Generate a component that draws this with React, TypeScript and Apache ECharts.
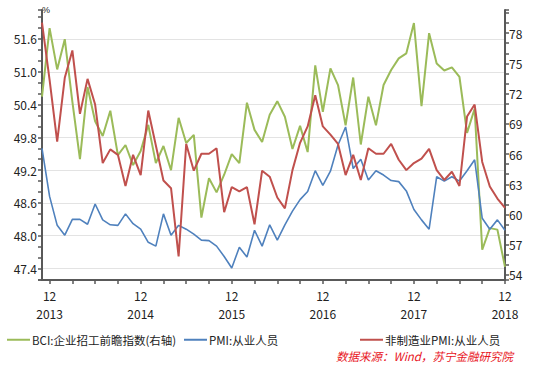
import React, { useEffect, useRef } from "react";
import * as echarts from "echarts";

// Monthly categories, Nov 2012 .. Dec 2017
const categories: string[] = [];
for (let y = 2012; y <= 2017; y++) {
  for (let m = 1; m <= 12; m++) {
    if (y === 2012 && m < 11) continue;
    categories.push(`${y}-${String(m).padStart(2, "0")}`);
  }
}

const bciName = "BCI:企业招工前瞻指数(右轴)";
const pmiName = "PMI:从业人员";
const nonMfgName = "非制造业PMI:从业人员";

const bciValues = [
  71.7, 78.5, 74.4, 77.4, 71.2, 65.5, 72.65, 69.25, 67.8, 70.3, 65.9, 66.9, 64.9,
  66.3, 68.9, 65.1, 66.8, 64.4, 69.6, 67.1, 67.9, 59.7, 63.6, 62.2, 63.95, 66.0,
  65.1, 71.1, 68.4, 67.2, 69.9, 71.25, 69.7, 66.5, 68.8, 66.2, 74.8, 70.2, 74.5,
  72.85, 68.85, 73.6, 66.95, 71.7, 68.85, 72.85, 74.35, 75.5, 76.0, 79.0, 70.75,
  78.0, 75.0, 74.3, 74.6, 73.65, 68.1, 70.5, 56.5, 58.65, 58.5, 54.8,
];

const pmiValues = [
  49.6, 48.72, 48.19, 48.01, 48.3, 48.3, 48.21, 48.58, 48.29, 48.2, 48.19, 48.4,
  48.22, 48.12, 47.88, 47.81, 48.4, 48.01, 48.19, 48.12, 48.03, 47.92, 47.91,
  47.81, 47.62, 47.41, 47.79, 47.61, 48.1, 47.81, 48.2, 47.92, 48.2, 48.45, 48.66,
  48.81, 49.19, 48.92, 49.18, 49.66, 49.99, 49.23, 49.4, 49.02, 49.19, 49.11,
  49.01, 48.99, 48.82, 48.48, 48.29, 48.12, 49.08, 49.0, 49.08, 49.0, 49.19, 49.39,
  48.32, 48.12, 48.29, 48.1,
];

const nonMfgValues = [
  51.9, 50.85, 49.72, 50.89, 51.39, 50.23, 50.87, 50.4, 49.33, 49.58, 49.48, 48.91,
  49.48, 49.11, 50.29, 49.65, 49.01, 48.87, 47.62, 49.68, 49.19, 49.5, 49.5, 49.6,
  48.43, 48.89, 48.81, 48.89, 48.21, 49.19, 49.08, 48.7, 48.5, 49.2, 49.7, 50.0,
  50.57, 50.0, 49.85, 49.68, 49.11, 49.48, 49.02, 49.6, 49.5, 49.5, 49.68, 49.39,
  49.2, 49.33, 49.41, 49.59, 49.2, 49.02, 49.17, 48.91, 50.18, 50.4, 49.35, 48.9,
  48.68, 48.51,
];

const sourceText = "数据来源：Wind，苏宁金融研究院";

const FONT = '"Noto Sans CJK SC", "Noto Sans", sans-serif';
const AXIS_COLOR = "#595959";

export default function App() {
  const ref = useRef<HTMLDivElement>(null);

  useEffect(() => {
    if (!ref.current) return;
    const chart = echarts.init(ref.current, null, { renderer: "svg" });
    const legendCommon = {
      icon: "rect",
      itemWidth: 23,
      itemHeight: 2,
      top: 329,
      textStyle: { fontSize: 11.5, color: "#222", fontFamily: FONT, padding: [0, 0, 0, -3] },
    };
    chart.setOption({
      animation: false,
      backgroundColor: "#fff",
      grid: { left: 42, right: 38, top: 10, bottom: 88 },
      legend: [
        { ...legendCommon, left: 2, data: [bciName] },
        { ...legendCommon, left: 179, data: [pmiName] },
        { ...legendCommon, left: 355, data: [nonMfgName] },
      ],
      xAxis: {
        type: "category",
        data: categories,
        boundaryGap: false,
        axisLine: { lineStyle: { color: AXIS_COLOR, width: 2 } },
        axisTick: {
          show: true,
          length: 4,
          interval: (index: number) => (index - 1) % 3 === 0,
          lineStyle: { color: AXIS_COLOR, width: 1.5 },
        },
        axisLabel: {
          interval: (index: number) => (index - 1) % 12 === 0,
          formatter: (value: string) => {
            const [y, m] = value.split("-");
            return m === "12" ? `12\n${Number(y) + 1}` : "";
          },
          color: "#222",
          fontSize: 12,
          fontFamily: FONT,
          lineHeight: 18,
          margin: 6,
        },
        splitLine: { show: false },
      },
      yAxis: [
        {
          type: "value",
          position: "left",
          min: 47.19,
          max: 52.13,
          minInterval: 0.6,
          maxInterval: 0.6,
          name: "%",
          nameLocation: "end",
          nameGap: 0,
          nameTextStyle: { align: "left", verticalAlign: "middle", fontSize: 9, color: "#222", padding: [0, 0, 0, 0] },
          axisLine: { show: true, lineStyle: { color: AXIS_COLOR, width: 2 } },
          axisTick: { show: true, length: 4, lineStyle: { color: AXIS_COLOR, width: 1.5 } },
          minorTick: { show: true, splitNumber: 3, length: 4, lineStyle: { color: AXIS_COLOR, width: 1.5 } },
          axisLabel: {
            showMinLabel: false,
            showMaxLabel: false,
            formatter: (v: number) => v.toFixed(1),
            color: "#222",
            fontSize: 12,
            fontFamily: FONT,
            margin: 5,
          },
          splitLine: {
            show: true,
            showMinLine: false,
            showMaxLine: false,
            lineStyle: { color: "#e3e3e3", width: 1 },
          },
        },
        {
          type: "value",
          position: "right",
          min: 53.5,
          max: 80.3,
          minInterval: 1,
          maxInterval: 1,
          axisLine: { show: true, lineStyle: { color: AXIS_COLOR, width: 2 } },
          axisTick: { show: true, length: 4, lineStyle: { color: AXIS_COLOR, width: 1.5 } },
          axisLabel: {
            formatter: (v: number) =>
              Math.abs(v - Math.round(v)) < 1e-6 && Math.round(v) % 3 === 0 ? String(Math.round(v)) : "",
            color: "#222",
            fontSize: 12,
            fontFamily: FONT,
            margin: 4,
          },
          splitLine: { show: false },
        },
      ],
      series: [
        {
          name: bciName,
          type: "line",
          yAxisIndex: 1,
          data: bciValues,
          showSymbol: false,
          symbol: "none",
          lineStyle: { color: "#9BBB59", width: 2 },
          itemStyle: { color: "#9BBB59" },
        },
        {
          name: pmiName,
          type: "line",
          yAxisIndex: 0,
          data: pmiValues,
          showSymbol: false,
          symbol: "none",
          lineStyle: { color: "#4F81BD", width: 1.6 },
          itemStyle: { color: "#4F81BD" },
        },
        {
          name: nonMfgName,
          type: "line",
          yAxisIndex: 0,
          data: nonMfgValues,
          showSymbol: false,
          symbol: "none",
          lineStyle: { color: "#C0504D", width: 2 },
          itemStyle: { color: "#C0504D" },
        },
      ],
      graphic: [
        {
          type: "text",
          right: 30,
          top: 350,
          style: {
            text: sourceText,
            fill: "#e8141c",
            font: `italic 11.5px ${FONT}`,
          },
        },
      ],
    });
    return () => chart.dispose();
  }, []);

  return (
    <div
      ref={ref}
      style={{ position: "absolute", left: 0, top: 0, width: 543, height: 368 }}
    />
  );
}
